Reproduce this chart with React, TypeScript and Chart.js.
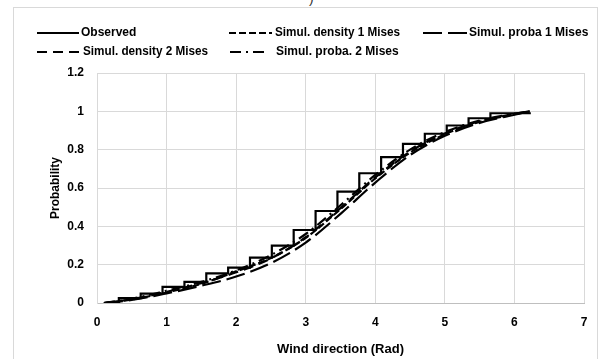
import React, { useEffect, useRef } from "react";
import { Chart, registerables } from "chart.js";

Chart.register(...registerables);

// Observed empirical CDF (step points)
const obsX = [0.1, 0.314, 0.628, 0.942, 1.257, 1.571, 1.885, 2.199, 2.513, 2.827, 3.142, 3.456, 3.77, 4.084, 4.398, 4.712, 5.027, 5.341, 5.655, 6.22];
const obsY = [0.0, 0.025, 0.049, 0.084, 0.11, 0.155, 0.185, 0.237, 0.299, 0.381, 0.48, 0.581, 0.677, 0.761, 0.83, 0.883, 0.926, 0.964, 0.99, 0.995];

// Simulated curves
const simX = [0.1, 0.5, 1.0, 1.5, 2.0, 2.5, 3.0, 3.5, 4.0, 4.5, 5.0, 5.5, 6.0, 6.22];
const dens1 = [0.0, 0.018, 0.055, 0.1, 0.165, 0.235, 0.34, 0.49, 0.65, 0.785, 0.88, 0.945, 0.985, 1.0];
const proba1 = [0.0, 0.016, 0.05, 0.09, 0.138, 0.208, 0.315, 0.465, 0.628, 0.772, 0.872, 0.94, 0.982, 1.0];
const dens2 = [0.0, 0.02, 0.058, 0.104, 0.16, 0.233, 0.343, 0.495, 0.655, 0.79, 0.884, 0.948, 0.986, 1.0];
const proba2 = [0.0, 0.022, 0.064, 0.11, 0.17, 0.25, 0.36, 0.51, 0.668, 0.8, 0.892, 0.952, 0.988, 1.0];

const seriesNames = ["Observed", "Simul. density 1 Mises", "Simul. proba 1 Mises", "Simul. density 2 Mises", "Simul. proba. 2 Mises"];
const yTickLabels = ["0", "0.2", "0.4", "0.6", "0.8", "1", "1.2"];
const xTickLabels = ["0", "1", "2", "3", "4", "5", "6", "7"];
const xTitle = "Wind direction (Rad)";
const yTitle = "Probability";

const dashes: number[][] = [[], [7, 3], [19, 6], [10, 6], [11, 5, 2, 5]];

const toPts = (xs: number[], ys: number[]) => xs.map((x, i) => ({ x, y: ys[i] }));

const legendLayout = [
  { x0: 37, x1: 79, tx: 81, y: 33 },
  { x0: 229, x1: 272, tx: 275, y: 33 },
  { x0: 423, x1: 467, tx: 469, y: 33 },
  { x0: 37, x1: 81, tx: 83, y: 52 },
  { x0: 230, x1: 267, tx: 276, y: 52 },
];

const legendPlugin = {
  id: "customLegend",
  afterDraw(chart: any) {
    const ctx = chart.ctx;
    ctx.save();
    legendLayout.forEach((l, i) => {
      ctx.beginPath();
      ctx.setLineDash(dashes[i]);
      ctx.lineWidth = 2;
      ctx.strokeStyle = "#000";
      ctx.moveTo(l.x0, l.y);
      ctx.lineTo(l.x1, l.y);
      ctx.stroke();
      ctx.setLineDash([]);
      ctx.fillStyle = "#000";
      ctx.font = "bold 12px 'Liberation Sans', Arial, sans-serif";
      ctx.textBaseline = "middle";
      ctx.textAlign = "left";
      ctx.fillText(seriesNames[i], l.tx, l.y, 125);
    });
    ctx.restore();
  },
};

export default function App() {
  const ref = useRef<HTMLCanvasElement>(null);
  useEffect(() => {
    if (!ref.current) return;
    const font = { family: "'Liberation Sans', Arial, sans-serif", size: 12, weight: "bold" as const };
    const ys = [dens1, proba1, dens2, proba2];
    const datasets: any[] = [
      {
        label: seriesNames[0],
        data: toPts(obsX, obsY),
        borderColor: "#000",
        borderWidth: 2.2,
        stepped: "before",
        pointRadius: 0,
        fill: false,
      },
      ...ys.map((arr, i) => ({
        label: seriesNames[i + 1],
        data: toPts(simX, arr),
        borderColor: "#000",
        borderWidth: 2.2,
        borderDash: dashes[i + 1],
        cubicInterpolationMode: "monotone",
        pointRadius: 0,
        fill: false,
      })),
    ];
    const chart = new Chart(ref.current, {
      type: "line",
      data: { datasets },
      options: {
        animation: false,
        responsive: false,
        maintainAspectRatio: false,
        layout: { padding: { top: 73, right: 22, left: 0, bottom: 0 } },
        plugins: { legend: { display: false }, tooltip: { enabled: false } },
        scales: {
          x: {
            type: "linear",
            min: 0,
            max: 7,
            ticks: {
              stepSize: 1,
              font,
              color: "#000",
              padding: 12,
              callback: (_v: any, i: number) => xTickLabels[i],
            },
            grid: { color: "#d9d9d9", drawTicks: false, lineWidth: 1 },
            border: { color: "#bfbfbf", width: 1 },
            title: {
              display: true,
              text: xTitle,
              color: "#000",
              font: { family: "'Liberation Sans', Arial, sans-serif", size: 13, weight: "bold" },
              padding: { top: 0, bottom: 2 },
            },
            afterFit: (s: any) => {
              s.height = 56;
            },
          },
          y: {
            type: "linear",
            min: 0,
            max: 1.2,
            ticks: {
              stepSize: 0.2,
              font,
              color: "#000",
              padding: 13,
              callback: (_v: any, i: number) => yTickLabels[i],
            },
            grid: { color: "#d9d9d9", drawTicks: false, lineWidth: 1 },
            border: { color: "#d9d9d9", width: 1 },
            title: {
              display: true,
              text: yTitle,
              color: "#000",
              font: { family: "'Liberation Sans', Arial, sans-serif", size: 12, weight: "bold" },
              padding: { top: 48, bottom: 0 },
            },
            afterFit: (s: any) => {
              s.width = 97;
            },
          },
        },
      } as any,
      plugins: [legendPlugin],
    });
    return () => chart.destroy();
  }, []);

  return (
    <div style={{ position: "fixed", left: 0, top: 0, width: 606, height: 359, background: "#fff", overflow: "hidden" }}>
      <div
        style={{
          position: "absolute",
          left: 13,
          top: 7,
          width: 585,
          height: 360,
          border: "1px solid #d9d9d9",
          boxSizing: "border-box",
        }}
      />
      <span
        style={{
          position: "absolute",
          left: 309,
          top: -10,
          fontFamily: "'Liberation Sans', Arial, sans-serif",
          fontSize: 14,
          color: "#333",
        }}
      >
        )
      </span>
      <canvas ref={ref} width={606} height={359} style={{ position: "absolute", left: 0, top: 0, width: 606, height: 359 }} />
    </div>
  );
}
